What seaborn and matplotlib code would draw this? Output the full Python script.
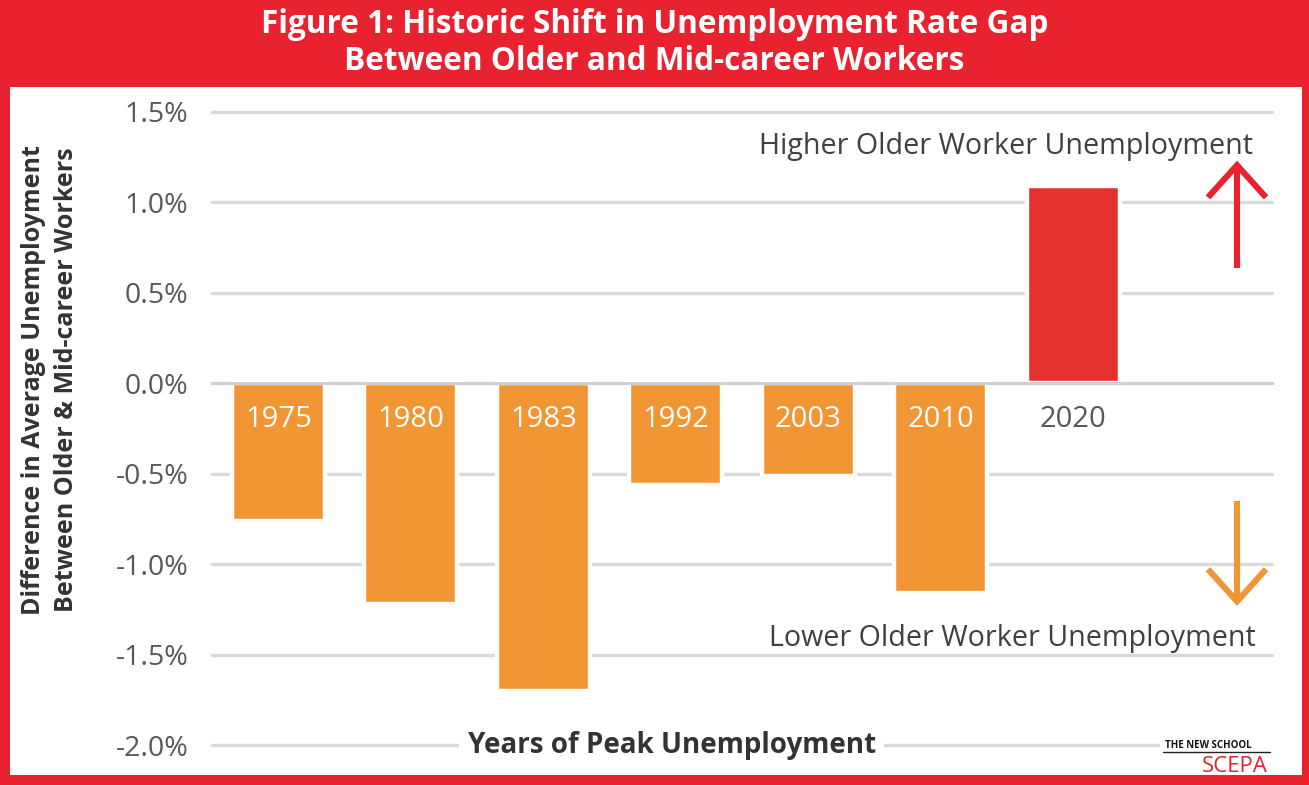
import matplotlib
matplotlib.use("Agg")
import matplotlib.pyplot as plt
from matplotlib.patches import Rectangle
from matplotlib.lines import Line2D
from matplotlib.ticker import FuncFormatter
import numpy as np
import pandas as pd
import seaborn as sns

# ---- data ----
years = ["1975", "1980", "1983", "1992", "2003", "2010", "2020"]
gap = [-0.76, -1.22, -1.70, -0.56, -0.51, -1.16, 1.09]
ytick_vals = [-2.0, -1.5, -1.0, -0.5, 0.0, 0.5, 1.0, 1.5]
title = "Figure 1: Historic Shift in Unemployment Rate Gap\nBetween Older and Mid-career Workers"
ylabel = "Difference in Average Unemployment\nBetween Older & Mid-career Workers"
xlabel = "Years of Peak Unemployment"
note_high = "Higher Older Worker Unemployment"
note_low = "Lower Older Worker Unemployment"

RED = "#E8232F"
BAR_RED = "#E53030"
ORANGE = "#F29535"
GRID = "#D9D9D9"
DARK = "#333333"

sns.set_theme(style="white")
plt.rcParams["font.family"] = ["Open Sans", "DejaVu Sans"]

W, H = 1309, 785
fig = plt.figure(figsize=(W / 100, H / 100), dpi=100)
fig.patch.set_facecolor(RED)
fig.add_artist(Rectangle((10 / W, 1 - 775 / H), (1302 - 10) / W, (775 - 87) / H,
                         transform=fig.transFigure, facecolor="white",
                         edgecolor="none", zorder=-1))

ax = fig.add_axes([212 / W, 1 - 745 / H, (1272 - 212) / W, (745 - 112) / H])
ax.set_facecolor("none")

df = pd.DataFrame({"year": years, "gap": gap})
colors = [BAR_RED if v > 0 else ORANGE for v in gap]
sns.barplot(data=df, x="year", y="gap", hue="year", palette=colors, order=years,
            legend=False, width=0.70, edgecolor="white", linewidth=3.2,
            saturation=1, ax=ax)

ax.set_xlim(-0.5, 7.5)
ax.set_ylim(-2.0, 1.5)
ax.set_yticks(ytick_vals)
ax.yaxis.set_major_formatter(FuncFormatter(lambda v, p: f"{v:.1f}%"))
ax.yaxis.grid(True, color=GRID, lw=2.4)
for gl in ax.yaxis.get_gridlines():
    gl.set_clip_on(False)
ax.set_axisbelow(True)
ax.tick_params(axis="y", length=0, pad=17, labelsize=20.5, labelcolor="#595959")

ax.set_xticks(np.arange(-0.5, 7.6, 1.0))
ax.tick_params(axis="x", length=6, width=2, color="#CFCFCF", direction="out",
               labelbottom=False)
for s in ["top", "right", "left"]:
    ax.spines[s].set_visible(False)
ax.spines["bottom"].set_position(("data", 0))
ax.spines["bottom"].set_color("#D0D0D0")
ax.spines["bottom"].set_linewidth(2.2)
ax.set_xlabel("")
ax.set_ylabel("")

# year labels
for i, (yr, v) in enumerate(zip(years, gap)):
    ax.text(i, -0.20, yr, ha="center", va="center", fontsize=21,
            color="white" if v < 0 else "#595959")

# x label over the bottom gridline
ax.text(2.97, -2.0, xlabel, ha="center", va="center", fontsize=20,
        fontweight="bold", color=DARK,
        bbox=dict(boxstyle="square,pad=0.3", fc="white", ec="none"), clip_on=False)

# annotations
ax.text(7.36, 1.31, note_high, ha="right", va="center", fontsize=20.6, color="#404040")
ax.text(7.375, -1.41, note_low, ha="right", va="center", fontsize=20.6, color="#404040")

ax_x = 7.236
dx = 0.219
ax.plot([ax_x, ax_x], [0.639, 1.20], color=RED, lw=4.4, solid_capstyle="butt", clip_on=False)
ax.plot([ax_x - dx, ax_x, ax_x + dx], [1.028, 1.206, 1.028], color=RED, lw=4.4,
        solid_capstyle="butt", solid_joinstyle="miter", clip_on=False)
ax.plot([ax_x, ax_x], [-0.65, -1.20], color=ORANGE, lw=4.4, solid_capstyle="butt", clip_on=False)
ax.plot([ax_x - dx, ax_x, ax_x + dx], [-1.028, -1.206, -1.028], color=ORANGE, lw=4.4,
        solid_capstyle="butt", solid_joinstyle="miter", clip_on=False)

# title
fig.text(0.5, 1 - 43 / H, title, ha="center", va="center", fontsize=22.7,
         fontweight="bold", color="white", linespacing=1.15)

# y label
fig.text(50 / W, 1 - 380 / H, ylabel, ha="center", va="center", rotation=90,
         fontsize=18, fontweight="bold", color=DARK, linespacing=1.45)

# logo
fig.add_artist(Rectangle((1160 / W, 1 - 760 / H), 115 / W, 22 / H,
                         transform=fig.transFigure, facecolor="white",
                         edgecolor="none", zorder=2))
fig.text(1165 / W, 1 - 746 / H, "THE NEW SCHOOL", ha="left", va="center",
         fontsize=7, fontweight="bold", color="#111111", zorder=3)
fig.add_artist(Line2D([1163 / W, 1270 / W], [1 - 752 / H, 1 - 752 / H],
                      transform=fig.transFigure, color="#222222", lw=1, zorder=3))
fig.text(1268 / W, 1 - 766 / H, "SCEPA", ha="right", va="center",
         fontsize=16, color=RED, zorder=3)

fig.savefig("out.png", dpi=100, facecolor=fig.get_facecolor())
